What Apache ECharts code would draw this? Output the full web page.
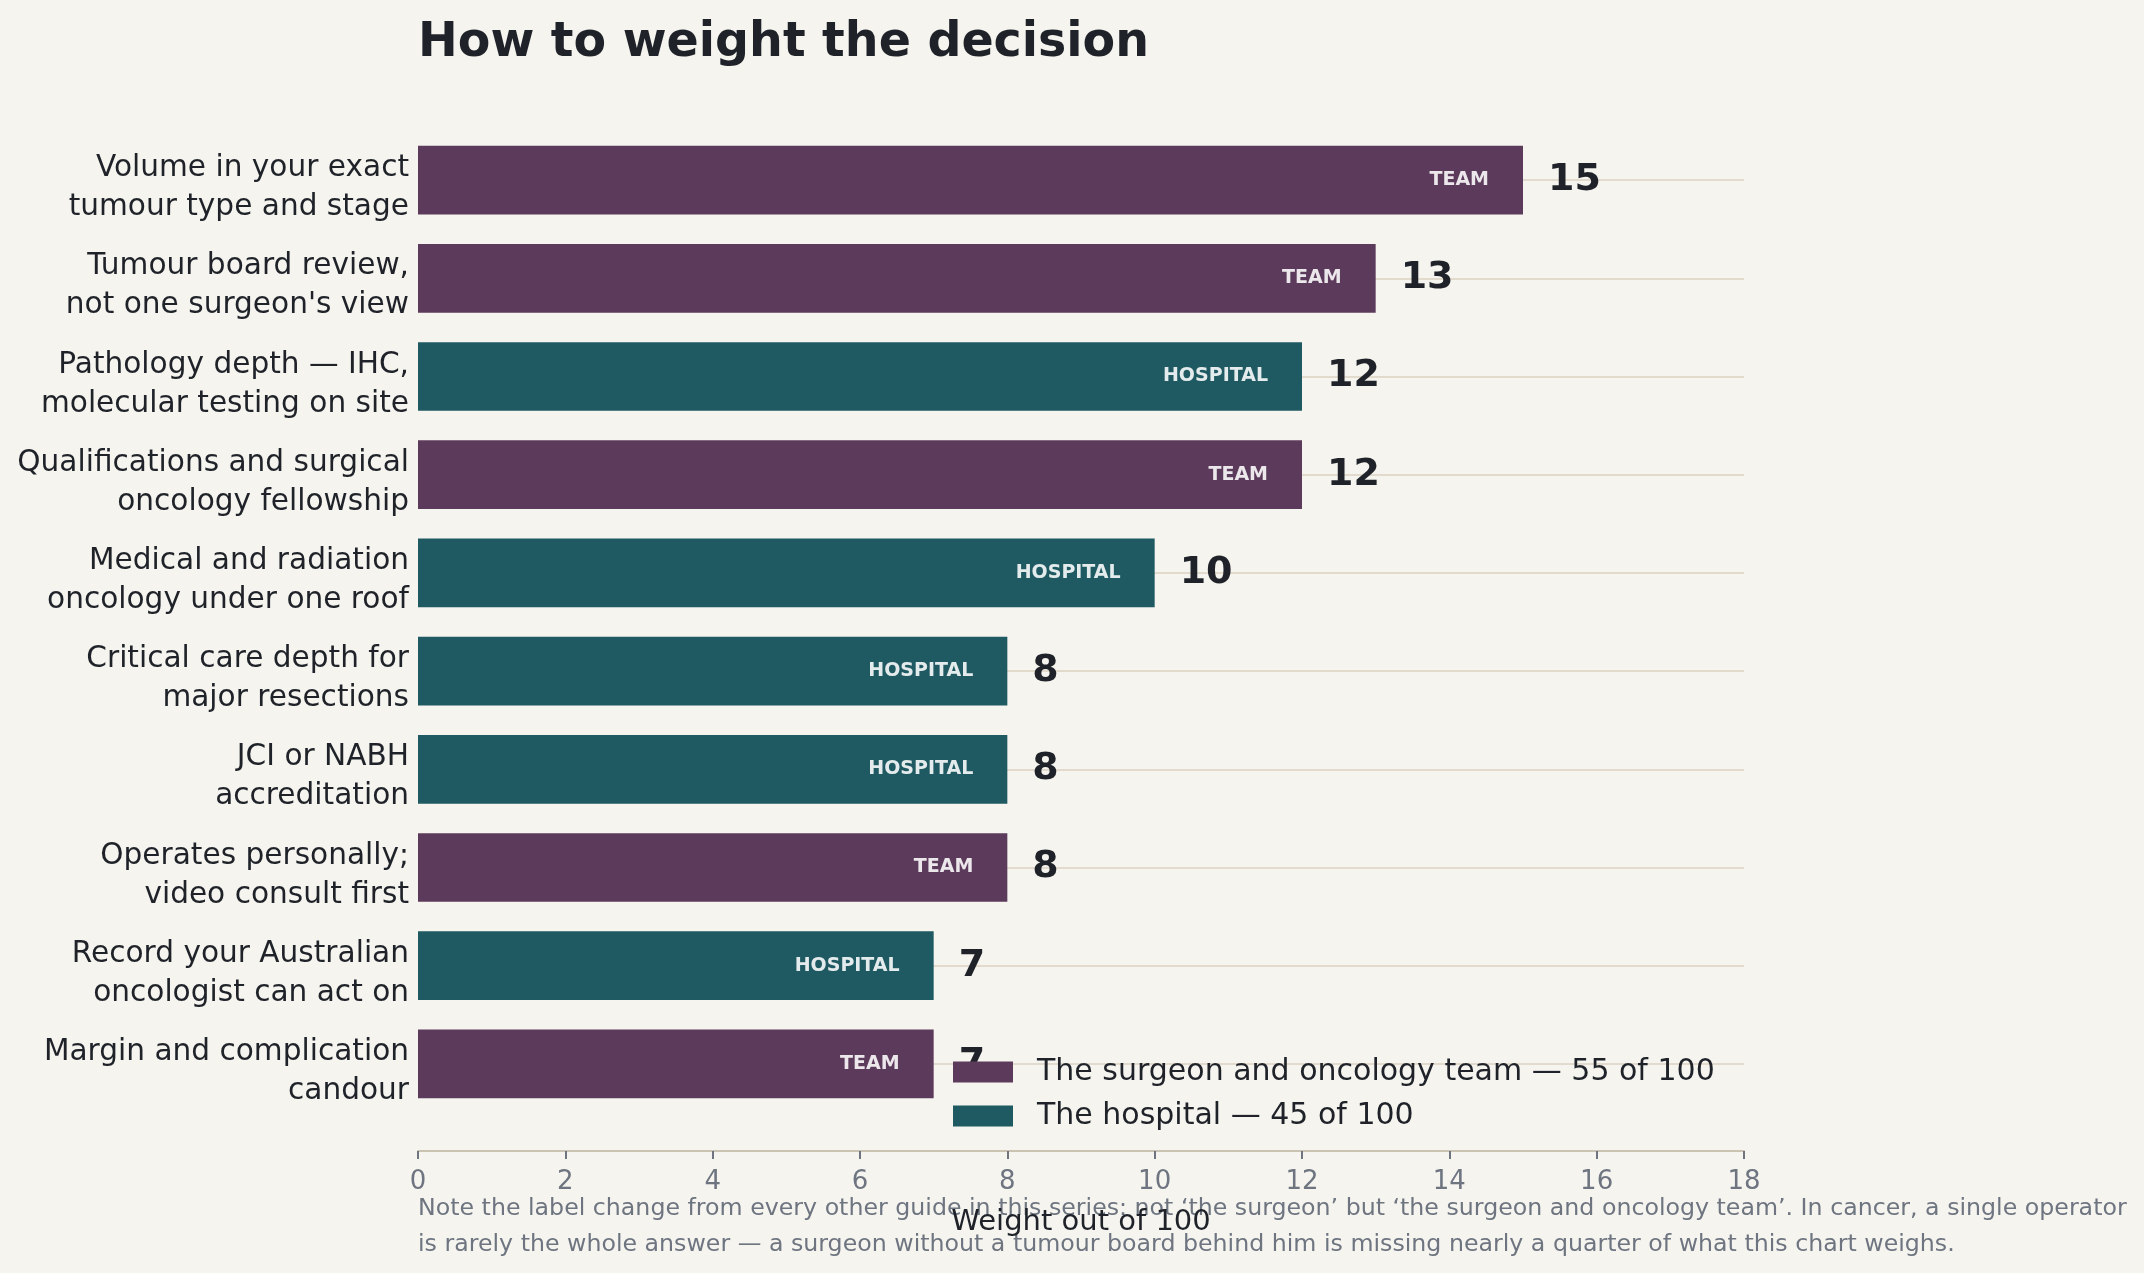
<!DOCTYPE html>
<html>
<head>
<meta charset="utf-8">
<script src="https://cdn.jsdelivr.net/npm/echarts@6/dist/echarts.min.js"></script>
<style>
html,body{margin:0;padding:0;background:#f5f4ef;}
#chart{width:2144px;height:1273px;}
</style>
</head>
<body>
<div id="chart"></div>
<script>
const categories = [
  "Volume in your exact\ntumour type and stage",
  "Tumour board review,\nnot one surgeon's view",
  "Pathology depth \u2014 IHC,\nmolecular testing on site",
  "Qualifications and surgical\noncology fellowship",
  "Medical and radiation\noncology under one roof",
  "Critical care depth for\nmajor resections",
  "JCI or NABH\naccreditation",
  "Operates personally;\nvideo consult first",
  "Record your Australian\noncologist can act on",
  "Margin and complication\ncandour"
];
const weights = [15, 13, 12, 12, 10, 8, 8, 8, 7, 7];
const owners = ["TEAM", "TEAM", "HOSPITAL", "TEAM", "HOSPITAL", "HOSPITAL", "HOSPITAL", "TEAM", "HOSPITAL", "TEAM"];
const xMin = 0, xMax = 18, xStep = 2;
const title = "How to weight the decision";
const teamName = "The surgeon and oncology team \u2014 55 of 100";
const hospitalName = "The hospital \u2014 45 of 100";
const xAxisName = "Weight out of 100";
const footnote = "Note the label change from every other guide in this series: not \u2018the surgeon\u2019 but \u2018the surgeon and oncology team\u2019. In cancer, a single operator\nis rarely the whole answer \u2014 a surgeon without a tumour board behind him is missing nearly a quarter of what this chart weighs.";

const FONT = "DejaVu Sans";
const TEAM_COLOR = "#5c3a5b";
const HOSP_COLOR = "#1f5a63";
const DARK = "#1f2329";
const GRAY = "#6e7580";

const teamData = weights.map((v, i) => owners[i] === "TEAM" ? v : "-");
const hospData = weights.map((v, i) => owners[i] === "HOSPITAL" ? v : "-");

const innerLabel = (txt) => ({
  show: true,
  position: "insideRight",
  distance: 34,
  formatter: txt,
  fontFamily: FONT,
  fontWeight: "bold",
  fontSize: 19,
  color: "rgba(255,255,255,0.88)"
});

const chart = echarts.init(document.getElementById("chart"), null, {renderer: "canvas"});
chart.setOption({
  backgroundColor: "#f5f4ef",
  animation: false,
  textStyle: {fontFamily: FONT},
  title: {
    text: title,
    left: 418,
    top: 20,
    padding: 0,
    textStyle: {fontFamily: FONT, fontSize: 47.5, fontWeight: "bold", color: DARK}
  },
  grid: {left: 418, right: 400, top: 131, bottom: 160, containLabel: false},
  legend: {
    data: [teamName, hospitalName],
    orient: "vertical",
    left: 953,
    top: 1057,
    padding: 0,
    itemWidth: 60,
    itemHeight: 21,
    itemGap: 14,
    icon: "rect",
    textStyle: {fontFamily: FONT, fontSize: 30, color: DARK, padding: [0, 0, 0, 19]}
  },
  xAxis: {
    type: "value",
    min: xMin,
    max: xMax,
    interval: xStep,
    offset: 38,
    name: xAxisName,
    nameLocation: "middle",
    nameGap: 57,
    nameTextStyle: {fontFamily: FONT, fontSize: 29, color: DARK},
    axisLine: {show: true, lineStyle: {color: "#cbc3b2", width: 2}},
    axisTick: {show: true, length: 8, lineStyle: {color: GRAY, width: 2}},
    axisLabel: {fontFamily: FONT, fontSize: 26, color: GRAY, margin: 18},
    splitLine: {show: false}
  },
  yAxis: {
    type: "category",
    data: categories,
    inverse: true,
    axisLine: {show: false},
    axisTick: {show: false},
    axisLabel: {
      margin: 9,
      align: "right",
      formatter: (v) => "{s| }\n" + v.split("\n").map(l => "{l|" + l + "}").join("\n"),
      rich: {
        s: {fontSize: 1, lineHeight: 16},
        l: {fontFamily: FONT, fontSize: 29.6, color: DARK, lineHeight: 39, align: "right"}
      }
    },
    splitLine: {show: false}
  },
  series: [
    {
      name: "values",
      type: "bar",
      data: weights,
      barGap: "-100%",
      barCategoryGap: "30%",
      z: 1,
      itemStyle: {color: "rgba(0,0,0,0)"},
      label: {
        show: true,
        position: "right",
        distance: 25,
        formatter: "{c}",
        fontFamily: FONT,
        fontWeight: "bold",
        fontSize: 38,
        color: DARK
      },
      markLine: {
        silent: true,
        z: 1,
        symbol: ["none", "none"],
        label: {show: false},
        lineStyle: {color: "#e2dbcd", width: 2, type: "solid"},
        emphasis: {disabled: true},
        data: categories.map(c => ({yAxis: c}))
      }
    },
    {
      name: teamName,
      type: "bar",
      data: teamData,
      barGap: "-100%",
      barCategoryGap: "30%",
      z: 3,
      itemStyle: {color: TEAM_COLOR},
      label: innerLabel("TEAM")
    },
    {
      name: hospitalName,
      type: "bar",
      data: hospData,
      barGap: "-100%",
      barCategoryGap: "30%",
      z: 3,
      itemStyle: {color: HOSP_COLOR},
      label: innerLabel("HOSPITAL")
    }
  ],
  graphic: [
    {
      type: "text",
      left: 418,
      top: 1191,
      silent: true,
      style: {
        text: footnote,
        font: "23.7px 'DejaVu Sans'",
        fill: GRAY,
        lineHeight: 36
      }
    }
  ]
});
</script>
</body>
</html>
